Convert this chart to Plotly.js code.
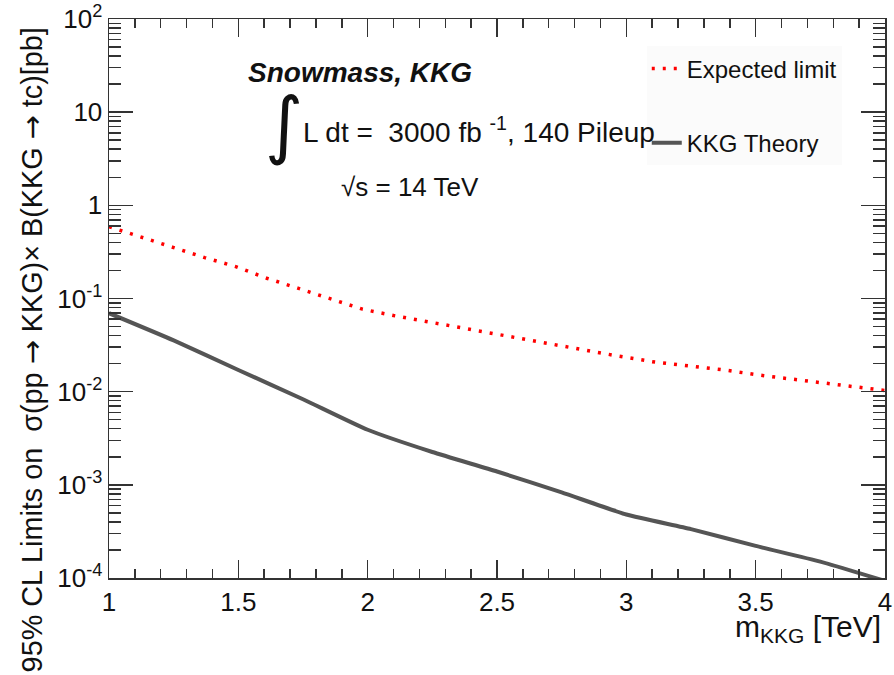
<!DOCTYPE html>
<html><head><meta charset="utf-8">
<script src="https://cdn.plot.ly/plotly-3.0.1.min.js"></script>
<style>html,body{margin:0;padding:0;background:#fff;}#chart{width:894px;height:675px;}</style>
</head><body><div id="chart"></div>
<script>
// Data
const massExp = [1.0, 1.02, 1.12, 1.25, 1.37, 1.49, 1.61, 1.73, 1.86, 1.98, 2.10, 2.25, 2.38, 2.50, 2.65, 2.80, 2.95, 3.10, 3.23, 3.38, 3.51, 3.66, 3.79, 3.94, 4.0];
const expectedLimit = [0.59, 0.568, 0.461, 0.352, 0.275, 0.220, 0.165, 0.129, 0.099, 0.0768, 0.0656, 0.0552, 0.0475, 0.0414, 0.0345, 0.0290, 0.0246, 0.0210, 0.0192, 0.0171, 0.0151, 0.0134, 0.0122, 0.0108, 0.0103];
const massTh = [1.0, 1.25, 1.5, 1.75, 2.0, 2.25, 2.5, 2.75, 3.0, 3.25, 3.5, 3.75, 4.0];
const theory = [0.0695, 0.0355, 0.0171, 0.0083, 0.0039, 0.00225, 0.00139, 0.00083, 0.00048, 0.000335, 0.000221, 0.000150, 0.000093];
const xTickVals = [1, 1.5, 2, 2.5, 3, 3.5, 4];
const xTickText = ["1", "1.5", "2", "2.5", "3", "3.5", "4"];
const yTickVals = [1e-4, 1e-3, 1e-2, 1e-1, 1, 10, 100];
const yTickText = ["10<sup>-4</sup>", "10<sup>-3</sup>", "10<sup>-2</sup>", "10<sup>-1</sup>", "1", "10", "10<sup>2</sup>"];

const yMinor = [];
for (let e = -4; e < 2; e++) for (let k = 2; k <= 9; k++) yMinor.push(k * Math.pow(10, e));

const FONT = "Liberation Sans, Arial, sans-serif";
const AX = "#333333";
const ARROW = '<span style="font-family:DejaVu Sans">→</span>';

const traces = [
  {x: massExp, y: expectedLimit, type: "scatter", mode: "lines", name: "Expected limit",
   legendgroup: "a", line: {color: "#ff0000", width: 3.5, dash: "3px,8px"}},
  {x: massTh, y: theory, type: "scatter", mode: "lines", name: "KKG Theory",
   legendgroup: "b", line: {color: "#555555", width: 4, shape: "spline", smoothing: 0.5}}
];

const layout = {
  width: 894, height: 675,
  margin: {l: 109, r: 9, t: 19, b: 97},
  paper_bgcolor: "#ffffff", plot_bgcolor: "#ffffff",
  font: {family: FONT, color: "#111", size: 24},
  showlegend: true,
  legend: {x: 0.693, y: 0.951, xanchor: "left", yanchor: "top", bgcolor: "rgba(251,251,251,1)",
           font: {size: 24, family: FONT, color: "#111"}, tracegroupgap: 40, itemwidth: 30},
  xaxis: {type: "linear", range: [1, 4], tickmode: "array", tickvals: xTickVals, ticktext: xTickText,
          ticks: "inside", ticklen: 18, tickwidth: 1.5, tickcolor: AX, showline: true, linecolor: AX,
          linewidth: 1.5, mirror: "allticks", showgrid: false, zeroline: false,
          tickfont: {size: 26, family: FONT, color: "#111"},
          minor: {dtick: 0.1, ticks: "inside", ticklen: 9, tickwidth: 1.5, tickcolor: AX, showgrid: false}},
  yaxis: {type: "log", range: [-4, 2], tickmode: "array", tickvals: yTickVals, ticktext: yTickText,
          ticks: "inside", ticklen: 24, tickwidth: 1.5, tickcolor: AX, showline: true, linecolor: AX,
          linewidth: 1.5, mirror: "allticks", showgrid: false, zeroline: false,
          tickfont: {size: 26, family: FONT, color: "#111"},
          minor: {tickmode: "array", tickvals: yMinor, ticks: "inside", ticklen: 12, tickwidth: 1.5, tickcolor: AX, showgrid: false}},
  annotations: [
    {xref: "paper", yref: "paper", x: -0.099, y: 0.988, xanchor: "center", yanchor: "top", textangle: -90,
     showarrow: false, text: "95% CL Limits on  σ(pp " + ARROW + " KKG)× B(KKG " + ARROW + " tc)[pb]", font: {size: 28.8, family: FONT, color: "#111"}},
    {xref: "paper", yref: "paper", x: 0.997, y: -0.091, xanchor: "right", yanchor: "middle",
     showarrow: false, text: "m<sub>KKG</sub> [TeV]", font: {size: 30, family: FONT, color: "#111"}},
    {xref: "paper", yref: "paper", x: 0.177, y: 0.905, xanchor: "left", yanchor: "middle",
     showarrow: false, text: "<b><i>Snowmass, KKG</i></b>", font: {size: 28, family: FONT, color: "#111"}},
    {xref: "paper", yref: "paper", x: 0.226, y: 0.812, xanchor: "center", yanchor: "middle",
     showarrow: false, text: '<span style="font-family:DejaVu Sans">∫</span>', font: {size: 74, family: FONT, color: "#111"}},
    {xref: "paper", yref: "paper", x: 0.247, y: 0.801, xanchor: "left", yanchor: "middle",
     showarrow: false, text: "L dt =  3000 fb <sup>-1</sup>, 140 Pileup", font: {size: 28, family: FONT, color: "#111"}},
    {xref: "paper", yref: "paper", x: 0.297, y: 0.699, xanchor: "left", yanchor: "middle",
     showarrow: false, text: "√s = 14 TeV", font: {size: 26, family: FONT, color: "#111"}}
  ]
};

Plotly.newPlot("chart", traces, layout, {displayModeBar: false, staticPlot: true});
</script></body></html>
